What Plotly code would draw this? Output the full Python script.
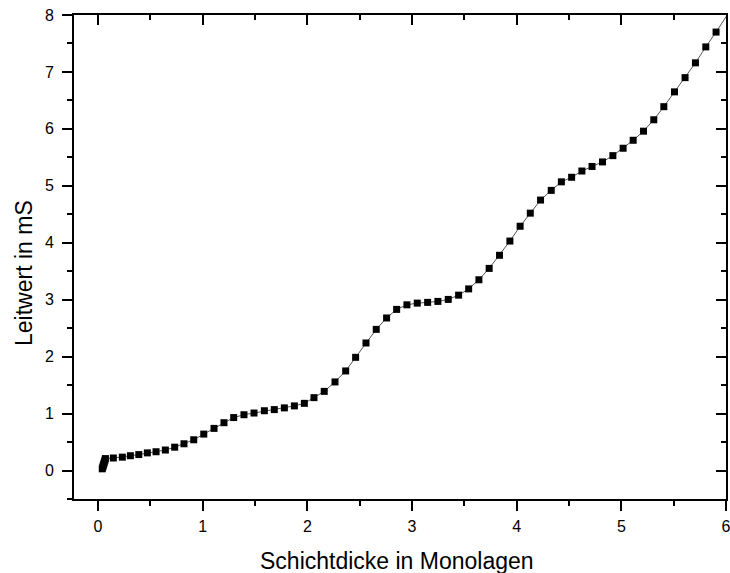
import plotly.graph_objects as go

thickness = [0.04, 0.045, 0.05, 0.055, 0.06, 0.065, 0.07,
             0.146, 0.232, 0.309, 0.389, 0.471, 0.554, 0.643, 0.732, 0.821, 0.914,
             1.01, 1.108, 1.203, 1.296, 1.394, 1.49, 1.589, 1.684, 1.78, 1.876, 1.971,
             2.063, 2.161, 2.264, 2.366, 2.461, 2.56, 2.658, 2.757, 2.853, 2.951,
             3.05, 3.149, 3.247, 3.346, 3.445, 3.541, 3.639, 3.737, 3.836, 3.935,
             4.033, 4.13, 4.228, 4.33, 4.427, 4.525, 4.623, 4.72, 4.82, 4.919,
             5.017, 5.113, 5.212, 5.31, 5.406, 5.508, 5.609, 5.708, 5.807, 5.905, 6.1]
conductance = [0.03, 0.06, 0.09, 0.12, 0.15, 0.18, 0.21,
               0.22, 0.235, 0.26, 0.28, 0.31, 0.33, 0.36, 0.41, 0.47, 0.54,
               0.64, 0.74, 0.84, 0.93, 0.98, 1.01, 1.05, 1.07, 1.10, 1.135, 1.18,
               1.28, 1.39, 1.556, 1.749, 1.988, 2.24, 2.479, 2.679, 2.83, 2.91,
               2.94, 2.953, 2.97, 3.005, 3.08, 3.19, 3.35, 3.55, 3.78, 4.03,
               4.29, 4.52, 4.75, 4.92, 5.07, 5.15, 5.26, 5.34, 5.42, 5.53,
               5.66, 5.80, 5.96, 6.16, 6.39, 6.65, 6.90, 7.16, 7.44, 7.70, 8.25]

x_ticks = [0, 1, 2, 3, 4, 5, 6]
y_ticks = [0, 1, 2, 3, 4, 5, 6, 7, 8]
x_range = [-0.23, 6.0]
y_range = [-0.5, 8.0]
x_title = "Schichtdicke in Monolagen"
y_title = "Leitwert in mS"

font_family = "Liberation Sans, Arial, sans-serif"

fig = go.Figure()
fig.add_trace(go.Scatter(
    x=thickness, y=conductance, mode="lines+markers",
    line=dict(color="#555555", width=1),
    marker=dict(symbol="square", size=7, color="black"),
    cliponaxis=True, showlegend=False, hoverinfo="skip"))
# invisible trace to host top/right axes
fig.add_trace(go.Scatter(x=[None], y=[None], xaxis="x2", yaxis="y2",
                         showlegend=False, hoverinfo="skip"))

common = dict(showgrid=False, zeroline=False, showline=True, linecolor="black",
              linewidth=2, tickwidth=2, tickcolor="black", automargin=False)

fig.update_layout(
    width=730, height=573,
    margin=dict(l=74, r=4, t=15, b=74),
    paper_bgcolor="white", plot_bgcolor="white",
    font=dict(family=font_family, color="black"),
    xaxis=dict(range=x_range, tickvals=x_ticks, ticks="outside", ticklen=10,
               tickfont=dict(size=16), ticklabeloverflow="allow",
               ticklabelstandoff=2,
               minor=dict(dtick=0.5, ticks="outside", ticklen=5, tickwidth=2,
                          tickcolor="black"),
               **common),
    yaxis=dict(range=y_range, tickvals=y_ticks, ticks="outside", ticklen=10,
               tickfont=dict(size=16), ticklabelstandoff=5,
               minor=dict(dtick=0.5, ticks="outside", ticklen=5, tickwidth=2,
                          tickcolor="black"),
               **common),
    xaxis2=dict(range=x_range, overlaying="x", side="top", tickvals=x_ticks,
                ticks="inside", ticklen=10, showticklabels=False,
                minor=dict(dtick=0.5, ticks="inside", ticklen=5, tickwidth=2,
                           tickcolor="black"),
                **common),
    yaxis2=dict(range=y_range, overlaying="y", side="right", tickvals=y_ticks,
                ticks="inside", ticklen=10, showticklabels=False,
                minor=dict(dtick=0.5, ticks="inside", ticklen=5, tickwidth=2,
                           tickcolor="black"),
                **common),
    annotations=[
        dict(text=x_title, xref="paper", yref="paper", x=0.496, y=-0.128,
             xanchor="center", yanchor="middle", showarrow=False,
             font=dict(size=23, color="black")),
        dict(text=y_title, xref="paper", yref="paper", x=-0.0759, y=0.466,
             xanchor="center", yanchor="middle", showarrow=False, textangle=-90,
             font=dict(size=23, color="black")),
    ],
)

fig.write_html("out.html")
